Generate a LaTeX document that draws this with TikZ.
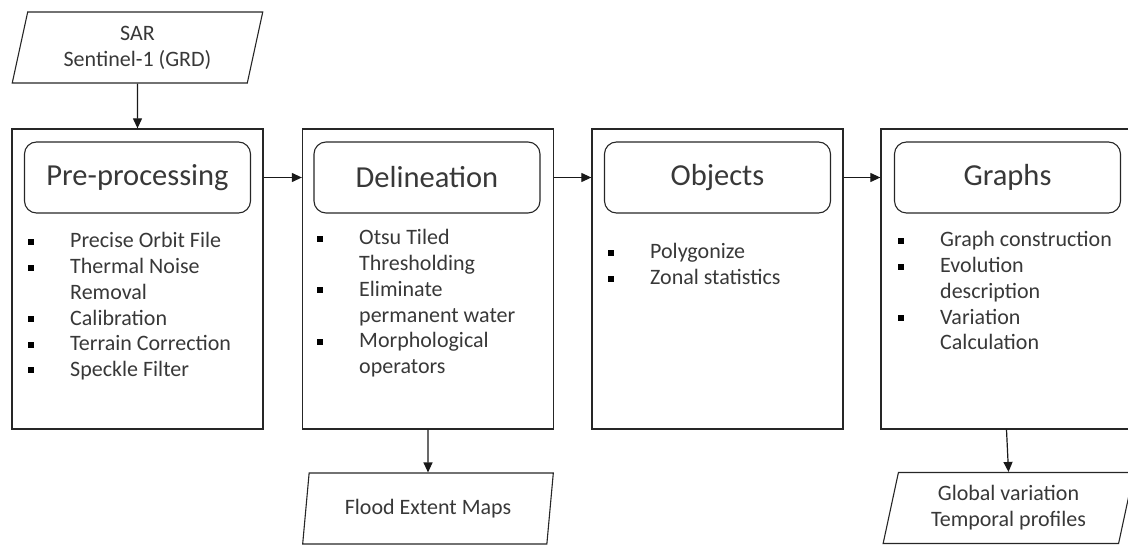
\documentclass[tikz,border=0pt]{standalone}
\usepackage{fontspec}
\setmainfont{Carlito}
\usetikzlibrary{shapes.geometric,arrows.meta}
\newcommand\sqb{\raisebox{3pt}{\textcolor{black}{\rule{6pt}{6pt}}}}
\newcommand\blist[1]{{\fontsize{22}{25.7}\selectfont\begin{tabular}[t]{@{}p{42pt}@{}l@{}}#1\end{tabular}}}
\begin{document}
\begin{tikzpicture}[x=1pt,y=-1pt,
  every node/.style={text=black!78},
  outerbox/.style={draw=black!85,line width=1.3pt,minimum width=251pt,minimum height=300pt,inner sep=0pt},
  titlebox/.style={draw=black!85,line width=1.1pt,rounded corners=12pt,minimum width=226pt,minimum height=71pt,inner sep=0pt,font=\fontsize{30.5}{32}\selectfont},
  para/.style={trapezium,trapezium left angle=76.5,trapezium right angle=103.5,trapezium stretches=true,
     draw=black!85,line width=1.1pt,minimum width=251pt,minimum height=71pt,inner sep=0pt,
     font=\fontsize{22}{26}\selectfont,align=center},
  listnode/.style={anchor=base west,inner sep=0pt},
  arr/.style={draw=black!90,line width=1.2pt,-{Triangle[length=10pt,width=9pt]}}]
\clip (0,0) rectangle (1128,545);
\useasboundingbox (0,0) rectangle (1128,545);

\node[para] (sar) at (137.5,47.5) {SAR\\Sentinel-1 (GRD)};

\node[outerbox] (b1) at (137.5,279) {};
\node[outerbox] (b2) at (428,279) {};
\node[outerbox] (b3) at (717.5,279) {};
\node[outerbox] (b4) at (1006.5,279) {};

\node[titlebox] (t1) at (137.5,177.5) {Pre-processing};
\node[titlebox] (t2) at (427,177.5) {Delineation};
\node[titlebox] (t3) at (717.5,177.5) {Objects};
\node[titlebox] (t4) at (1007.5,177.5) {Graphs};

\node[listnode] (l1) at (28,248) {\blist{\sqb & Precise Orbit File\\ \sqb & Thermal Noise\\ & Removal\\ \sqb & Calibration\\ \sqb & Terrain Correction\\ \sqb & Speckle Filter}};
\node[listnode] (l2) at (317,245) {\blist{\sqb & Otsu Tiled\\ & Thresholding\\ \sqb & Eliminate\\ & permanent water\\ \sqb & Morphological\\ & operators}};
\node[listnode] (l3) at (608,259) {\blist{\sqb & Polygonize\\ \sqb & Zonal statistics}};
\node[listnode] (l4) at (898,247) {\blist{\sqb & Graph construction\\ \sqb & Evolution\\ & description\\ \sqb & Variation\\ & Calculation}};

\node[para] (flood) at (428,508.5) {Flood Extent Maps};
\node[para] (glob) at (1008.5,508) {Global variation\\Temporal profiles};

\draw[arr] (sar.south) -- (b1.north);
\draw[arr] (t1.east -| b1.east) -- (t1.east -| b2.west);
\draw[arr] (t1.east -| b2.east) -- (t1.east -| b3.west);
\draw[arr] (t1.east -| b3.east) -- (t1.east -| b4.west);
\draw[arr] (b2.south) -- (flood.north);
\draw[arr] (b4.south) -- (glob.north);
\end{tikzpicture}
\end{document}
